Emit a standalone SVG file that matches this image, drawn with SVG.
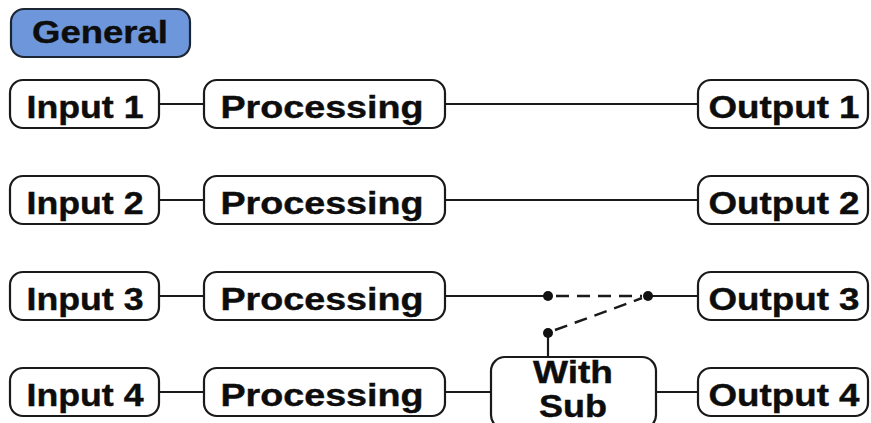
<svg xmlns="http://www.w3.org/2000/svg" width="871" height="423" viewBox="0 0 871 423">
<style>
.box{fill:#ffffff;stroke:#1a1a1a;stroke-width:2.2}
.hdr{fill:#6d97da;stroke:#1c2533;stroke-width:2.2}
.t{font-family:"Liberation Sans",Arial,sans-serif;font-weight:bold;font-size:31px;fill:#0d0d0d;text-anchor:middle;stroke:#0d0d0d;stroke-width:0.4}
.ln{stroke:#1a1a1a;stroke-width:2.2;fill:none}
.dash{stroke:#1a1a1a;stroke-width:2.4;fill:none;stroke-dasharray:13 8}
.dot{fill:#111111}
</style>
<rect width="871" height="423" fill="#ffffff"/>
<g id="connectors">
<line class="ln" x1="159" y1="104" x2="204" y2="104"/>
<line class="ln" x1="159" y1="200" x2="204" y2="200"/>
<line class="ln" x1="159" y1="296" x2="204" y2="296"/>
<line class="ln" x1="159" y1="392" x2="204" y2="392"/>
<line class="ln" x1="445" y1="104" x2="698" y2="104"/>
<line class="ln" x1="445" y1="200" x2="698" y2="200"/>
<line class="ln" x1="445" y1="296" x2="548" y2="296"/>
<line class="dash" x1="556" y1="296" x2="642" y2="296"/>
<line class="ln" x1="648" y1="296" x2="698" y2="296"/>
<line class="dash" x1="555" y1="330" x2="642" y2="298"/>
<line class="ln" x1="548" y1="333" x2="548" y2="357"/>
<line class="ln" x1="445" y1="392" x2="491" y2="392"/>
<line class="ln" x1="656" y1="392" x2="698" y2="392"/>
<circle class="dot" cx="548" cy="296" r="5"/>
<circle class="dot" cx="648" cy="296" r="5"/>
<circle class="dot" cx="548" cy="333" r="5"/>
</g>
<g id="general">
<rect class="hdr" x="11" y="9" width="179" height="48" rx="13"/>
<text class="t" x="100" y="43" textLength="136" lengthAdjust="spacingAndGlyphs">General</text>
</g>
<g id="input1">
<rect class="box" x="10" y="80" width="149" height="48" rx="13"/>
<text class="t" x="85" y="118" textLength="117" lengthAdjust="spacingAndGlyphs">Input 1</text>
</g>
<g id="input2">
<rect class="box" x="10" y="176" width="149" height="48" rx="13"/>
<text class="t" x="85" y="214" textLength="117" lengthAdjust="spacingAndGlyphs">Input 2</text>
</g>
<g id="input3">
<rect class="box" x="10" y="272" width="149" height="48" rx="13"/>
<text class="t" x="85" y="310" textLength="117" lengthAdjust="spacingAndGlyphs">Input 3</text>
</g>
<g id="input4">
<rect class="box" x="10" y="368" width="149" height="48" rx="13"/>
<text class="t" x="85" y="406" textLength="117" lengthAdjust="spacingAndGlyphs">Input 4</text>
</g>
<g id="processing1">
<rect class="box" x="204" y="80" width="241" height="48" rx="13"/>
<text class="t" x="322" y="118" textLength="203" lengthAdjust="spacingAndGlyphs">Processing</text>
</g>
<g id="processing2">
<rect class="box" x="204" y="176" width="241" height="48" rx="13"/>
<text class="t" x="322" y="214" textLength="203" lengthAdjust="spacingAndGlyphs">Processing</text>
</g>
<g id="processing3">
<rect class="box" x="204" y="272" width="241" height="48" rx="13"/>
<text class="t" x="322" y="310" textLength="203" lengthAdjust="spacingAndGlyphs">Processing</text>
</g>
<g id="processing4">
<rect class="box" x="204" y="368" width="241" height="48" rx="13"/>
<text class="t" x="322" y="406" textLength="203" lengthAdjust="spacingAndGlyphs">Processing</text>
</g>
<g id="withsub">
<rect class="box" x="491" y="357" width="165" height="72" rx="14"/>
<text class="t" x="573" y="383" textLength="80" lengthAdjust="spacingAndGlyphs">With</text>
<text class="t" x="573" y="417" textLength="68" lengthAdjust="spacingAndGlyphs">Sub</text>
</g>
<g id="output1">
<rect class="box" x="698" y="80" width="170" height="48" rx="13"/>
<text class="t" x="784" y="118" textLength="151" lengthAdjust="spacingAndGlyphs">Output 1</text>
</g>
<g id="output2">
<rect class="box" x="698" y="176" width="170" height="48" rx="13"/>
<text class="t" x="784" y="214" textLength="151" lengthAdjust="spacingAndGlyphs">Output 2</text>
</g>
<g id="output3">
<rect class="box" x="698" y="272" width="170" height="48" rx="13"/>
<text class="t" x="784" y="310" textLength="151" lengthAdjust="spacingAndGlyphs">Output 3</text>
</g>
<g id="output4">
<rect class="box" x="698" y="368" width="170" height="48" rx="13"/>
<text class="t" x="784" y="406" textLength="151" lengthAdjust="spacingAndGlyphs">Output 4</text>
</g>
</svg>
